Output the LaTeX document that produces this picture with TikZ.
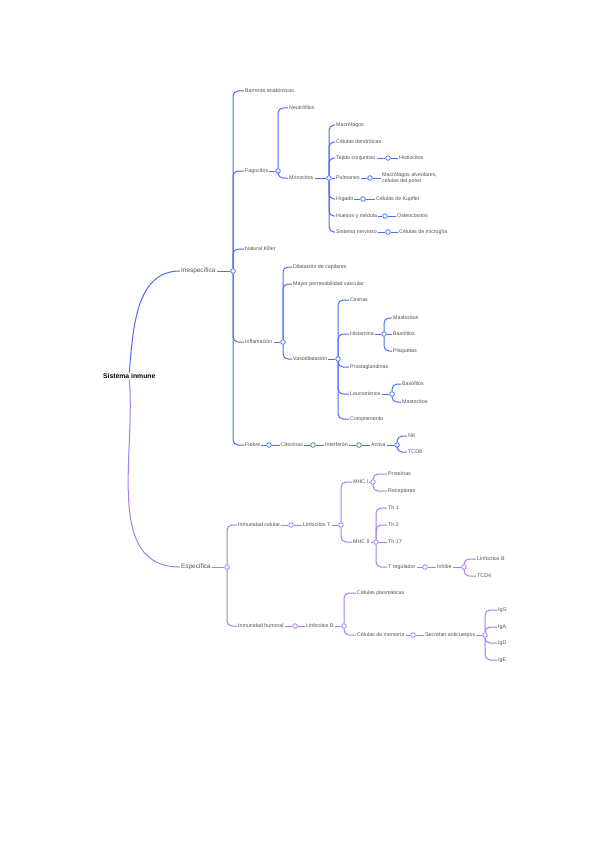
\documentclass[tikz,border=0pt]{standalone}
\usepackage{fontspec}
\setmainfont{Liberation Sans}
\usetikzlibrary{positioning}
\definecolor{azul}{HTML}{4A6FF5}
\definecolor{lila}{HTML}{A37CF0}
\definecolor{texto}{HTML}{505050}

\begin{document}
\begin{tikzpicture}[x=1pt, y=-1pt, node distance=4pt, every node/.style={font=\fontsize{5.3}{6.1}\selectfont, text=texto}]
\tikzstyle{lbl}=[anchor=west, inner sep=1pt]
\tikzstyle{jb}=[circle, draw=azul, fill=white, inner sep=0pt, minimum size=4.6pt, line width=0.8pt]
\tikzstyle{jp}=[circle, draw=lila, fill=white, inner sep=0pt, minimum size=4.6pt, line width=0.8pt]
\tikzstyle{rb}=[azul, line width=1pt, rounded corners=5pt]
\tikzstyle{rp}=[lila, line width=1pt, rounded corners=5pt]
\useasboundingbox (0,0) rectangle (600,848);

% raiz
\node[lbl, font=\fontsize{6.8}{8}\bfseries, text=black] (r) at (102,376) {Sistema inmune};
\node[lbl, font=\fontsize{6.4}{7.4}\selectfont] (ine) at (180,271) {Inespecífica};
\node[lbl, font=\fontsize{6.4}{7.4}\selectfont] (esp) at (180,567) {Específica};
\draw[azul, line width=1pt] (r.north) to[out=85, in=180] (ine.west);
\draw[lila, line width=1pt] (r.south) to[out=-85, in=180] (esp.west);

% inespecifica
\node[jb] (jine) at (233,271) {};
\node[lbl] (bar) at (244,91) {Barreras anatómicas};
\node[lbl] (fag) at (244,171) {Fagocitos};
\node[lbl] (nk) at (244,249) {Natural Killer};
\node[lbl] (inf) at (244,342) {Inflamación};
\node[lbl] (fie) at (244,445) {Fiebre};
\draw[rb] (ine) -- (jine);
\foreach \c in {bar,fag,nk,inf,fie} \draw[rb] (jine) |- (\c.west);

% fagocitos
\node[jb] (jfag) at (278,171) {};
\node[lbl] (neu) at (288,108) {Neutrófilos};
\node[lbl] (mon) at (288,178) {Monocitos};
\draw[rb] (fag) -- (jfag);
\foreach \c in {neu,mon} \draw[rb] (jfag) |- (\c.west);

\node[jb] (jmon) at (329,178) {};
\node[lbl] (mac) at (335,125) {Macrófagos};
\node[lbl] (cd) at (335,142) {Células dendríticas};
\node[lbl] (tej) at (335,158) {Tejido conjuntivo};
\node[lbl] (pul) at (335,178) {Pulmones};
\node[lbl] (hig) at (335,199) {Hígado};
\node[lbl] (hue) at (335,216) {Huesos y médula};
\node[lbl] (sn) at (335,232) {Sistema nervioso};
\draw[rb] (mon) -- (jmon);
\foreach \c in {mac,cd,tej,hig,hue,sn} \draw[rb] (jmon) |- (\c.west);
\draw[rb] (jmon) -- (pul);

\node[jb] (jtej) at (388,158) {};
\node[lbl] (his) at (398,158) {Histiocitos};
\node[jb] (jpul) at (370,178) {};
\node[lbl, align=left] (alv) at (381,178) {Macrófagos alveolares,\\células del polvo};
\node[jb] (jhig) at (363,199) {};
\node[lbl] (kup) at (375,199) {Células de Kupffer};
\node[jb] (jhue) at (385,216) {};
\node[lbl] (ost) at (396,216) {Osteoclastos};
\node[jb] (jsn) at (388,232) {};
\node[lbl] (mic) at (398,232) {Células de microglía};
\draw[rb] (tej) -- (jtej) -- (his);
\draw[rb] (pul) -- (jpul) -- (alv);
\draw[rb] (hig) -- (jhig) -- (kup);
\draw[rb] (hue) -- (jhue) -- (ost);
\draw[rb] (sn) -- (jsn) -- (mic);

% inflamacion
\node[jb] (jinf) at (283,342) {};
\node[lbl] (dil) at (292,267) {Dilatación de capilares};
\node[lbl] (per) at (292,284) {Mayor permeabilidad vascular};
\node[lbl] (vas) at (292,359) {Vasodilatación};
\draw[rb] (inf) -- (jinf);
\foreach \c in {dil,per,vas} \draw[rb] (jinf) |- (\c.west);

\node[jb] (jvas) at (338,359) {};
\node[lbl] (cin) at (349,300) {Cininas};
\node[lbl] (hist) at (349,334) {Histamina};
\node[lbl] (pro) at (349,367) {Prostaglandinas};
\node[lbl] (leu) at (349,394) {Leucotrienos};
\node[lbl] (com) at (349,419) {Complemento};
\draw[rb] (vas) -- (jvas);
\foreach \c in {cin,hist,pro,leu,com} \draw[rb] (jvas) |- (\c.west);

\node[jb] (jhist) at (384,334) {};
\node[lbl] (mas) at (392,318) {Mastocitos};
\node[lbl] (bas) at (392,334) {Basófilos};
\node[lbl] (pla) at (392,351) {Plaquetas};
\draw[rb] (hist) -- (jhist) -- (bas);
\foreach \c in {mas,pla} \draw[rb] (jhist) |- (\c.west);

\node[jb] (jleu) at (392,394) {};
\node[lbl] (basb) at (401,384) {Basófilos};
\node[lbl] (masb) at (401,402) {Mastocitos};
\draw[rb] (leu) -- (jleu);
\foreach \c in {basb,masb} \draw[rb] (jleu) |- (\c.west);

% fiebre
\node[jb] (jfie) at (269,445) {};
\node[lbl] (cit) at (280,445) {Citocinas};
\node[jb] (jcit) at (313,445) {};
\node[lbl] (itf) at (324,445) {Interferón};
\node[jb] (jitf) at (359,445) {};
\node[lbl] (act) at (370,445) {Activa};
\node[jb] (jact) at (397,445) {};
\node[lbl] (nkb) at (407,436) {NK};
\node[lbl] (tc) at (407,452) {TCD8};
\draw[rb] (fie) -- (jfie) -- (cit) -- (jcit) -- (itf) -- (jitf) -- (act) -- (jact);
\foreach \c in {nkb,tc} \draw[rb] (jact) |- (\c.west);

% especifica
\node[jp] (jesp) at (227,567) {};
\node[lbl] (cel) at (237,525) {Inmunidad celular};
\node[lbl] (hum) at (237,626) {Inmunidad humoral};
\draw[rp] (esp) -- (jesp);
\foreach \c in {cel,hum} \draw[rp] (jesp) |- (\c.west);

\node[jp] (jcel) at (291,525) {};
\node[lbl] (lt) at (302,525) {Linfocitos T};
\node[jp] (jlt) at (341,525) {};
\node[lbl] (mhca) at (352,482) {MHC I};
\node[lbl] (mhcb) at (352,542) {MHC II};
\draw[rp] (cel) -- (jcel) -- (lt) -- (jlt);
\foreach \c in {mhca,mhcb} \draw[rp] (jlt) |- (\c.west);

\node[jp] (jmhca) at (373,482) {};
\node[lbl] (prot) at (387,474) {Proteínas};
\node[lbl] (rec) at (387,491) {Receptores};
\draw[rp] (mhca) -- (jmhca);
\foreach \c in {prot,rec} \draw[rp] (jmhca) |- (\c.west);

\node[jp] (jmhcb) at (376,542) {};
\node[lbl] (tha) at (387,508) {Th 1};
\node[lbl] (thb) at (387,525) {Th 2};
\node[lbl] (thc) at (387,542) {Th 17};
\node[lbl] (treg) at (387,567) {T regulador};
\draw[rp] (mhcb) -- (jmhcb) -- (thc);
\foreach \c in {tha,thb,treg} \draw[rp] (jmhcb) |- (\c.west);

\node[jp] (jtreg) at (425,567) {};
\node[lbl] (inh) at (436,567) {Inhibe};
\node[jp] (jinh) at (464,567) {};
\node[lbl] (lbb) at (476,559) {Linfocitos B};
\node[lbl] (tcd) at (476,576) {TCD4};
\draw[rp] (treg) -- (jtreg) -- (inh) -- (jinh);
\foreach \c in {lbb,tcd} \draw[rp] (jinh) |- (\c.west);

% humoral
\node[jp] (jhum) at (295,626) {};
\node[lbl] (lb) at (305,626) {Linfocitos B};
\node[jp] (jlb) at (344,626) {};
\node[lbl] (plas) at (356,593) {Células plasmáticas};
\node[lbl] (mem) at (356,635) {Células de memoria};
\draw[rp] (hum) -- (jhum) -- (lb) -- (jlb);
\foreach \c in {plas,mem} \draw[rp] (jlb) |- (\c.west);

\node[jp] (jmem) at (413,635) {};
\node[lbl] (sec) at (424,635) {Secretan anticuerpos};
\node[jp] (jsec) at (485,635) {};
\node[lbl] (igg) at (497,610) {IgG};
\node[lbl] (iga) at (497,627) {IgA};
\node[lbl] (igd) at (497,643) {IgD};
\node[lbl] (ige) at (497,660) {IgE};
\draw[rp] (mem) -- (jmem) -- (sec) -- (jsec);
\foreach \c in {igg,iga,igd,ige} \draw[rp] (jsec) |- (\c.west);
\end{tikzpicture}
\end{document}
